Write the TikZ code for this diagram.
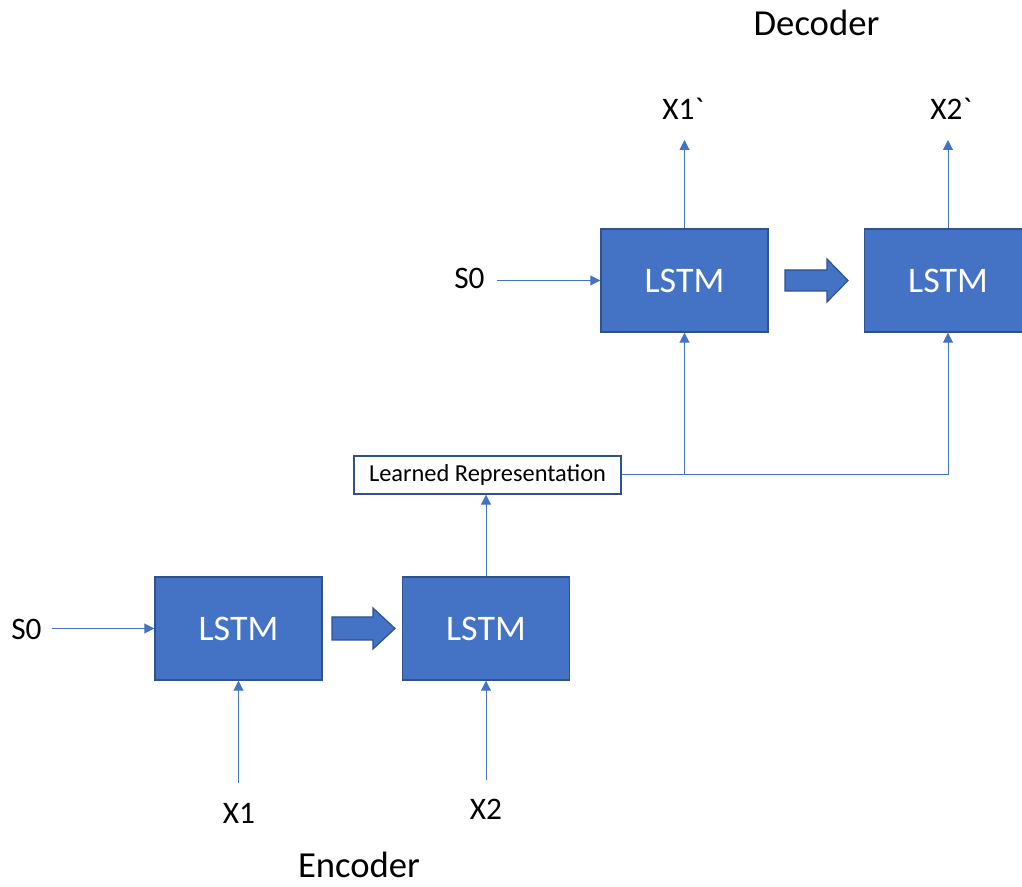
\documentclass[tikz,border=0pt]{standalone}
\usepackage{fontspec}
\setmainfont{Carlito}
\newfontfamily\gravefont{Carlito}
\usetikzlibrary{arrows.meta}
\definecolor{lstmfill}{HTML}{4472C4}
\definecolor{lstmedge}{HTML}{2F528F}
\begin{document}
\begin{tikzpicture}[x=0.75pt,y=-0.75pt,
  lstm/.style={draw=lstmedge, line width=1.1pt, fill=lstmfill, text=white,
    minimum width=125.25pt, minimum height=77.25pt, inner sep=0pt,
    font=\fontsize{27}{30}\selectfont},
  lbl/.style={inner sep=0pt, anchor=base, font=\fontsize{23.5}{28}\selectfont},
  ttl/.style={inner sep=0pt, anchor=base, font=\fontsize{27.5}{32}\selectfont},
  conn/.style={draw=lstmfill, line width=0.75pt, -{Triangle[length=7.5pt,width=7.5pt]}},
  blockarrow/.style={draw=lstmedge, fill=lstmfill, line width=0.9pt, line join=miter},
  reprbox/.style={draw=lstmedge, line width=1.1pt, fill=white,
    minimum width=200.25pt, minimum height=28.5pt, inner sep=0pt,
    font=\fontsize{18.3}{20}\selectfont}]
\clip (0,0) rectangle (1022,887);
\useasboundingbox (0,0) rectangle (1022,887);

% LSTM boxes
\node[lstm] (e1) at (238.5,628.5) {LSTM};
\node[lstm] (e2) at (486,628.5) {LSTM};
\node[lstm] (d1) at (684.5,280.5) {LSTM};
\node[lstm] (d2) at (948,280.5) {LSTM};

% learned representation
\node[reprbox] (lr) at (487.5,475) {Learned Representation};

% labels
\node[lbl] (s0e) at (26.5,640) {S0};
\node[lbl] (x1) at (239,823) {X1};
\node[lbl] (x2) at (486,820) {X2};
\node[lbl] (s0d) at (469.5,289) {S0};
\node[lbl] (x1o) at (683,120) {X1{\gravefont\symbol{96}}};
\node[lbl] (x2o) at (951,120) {X2{\gravefont\symbol{96}}};
\node[ttl] (dec) at (816.5,36) {Decoder};
\node[ttl] (enc) at (359,877) {Encoder};

% free ends
\coordinate (s0estart) at (52,630);
\coordinate (s0dstart) at (497,282);
\coordinate (x1in) at (238.5,783);
\coordinate (x2in) at (486,780);
\coordinate (x1out) at (684.5,140);
\coordinate (x2out) at (948,140);
\coordinate (j) at (684.5,475);

% connectors
\draw[conn] (s0estart |- e1.west) -- (e1.west);
\draw[conn] (s0dstart |- d1.west) -- (d1.west);
\draw[conn] (x1in) -- (e1.south);
\draw[conn] (x2in) -- (e2.south);
\draw[conn] (e2.north) -- (e2.north |- lr.south);
\draw[conn] (lr.east) -| (d2.south);
\draw[conn] (j) -- (d1.south);
\draw[conn] (d1.north) -- (x1out);
\draw[conn] (d2.north) -- (x2out);

% block arrows
\draw[blockarrow] (332,617) -- (373,617) -- (373,608) -- (395,628.5) -- (373,649) -- (373,640) -- (332,640) -- cycle;
\draw[blockarrow] (785,270) -- (827,270) -- (827,259) -- (848,280.5) -- (827,302) -- (827,291) -- (785,291) -- cycle;
\end{tikzpicture}
\end{document}
